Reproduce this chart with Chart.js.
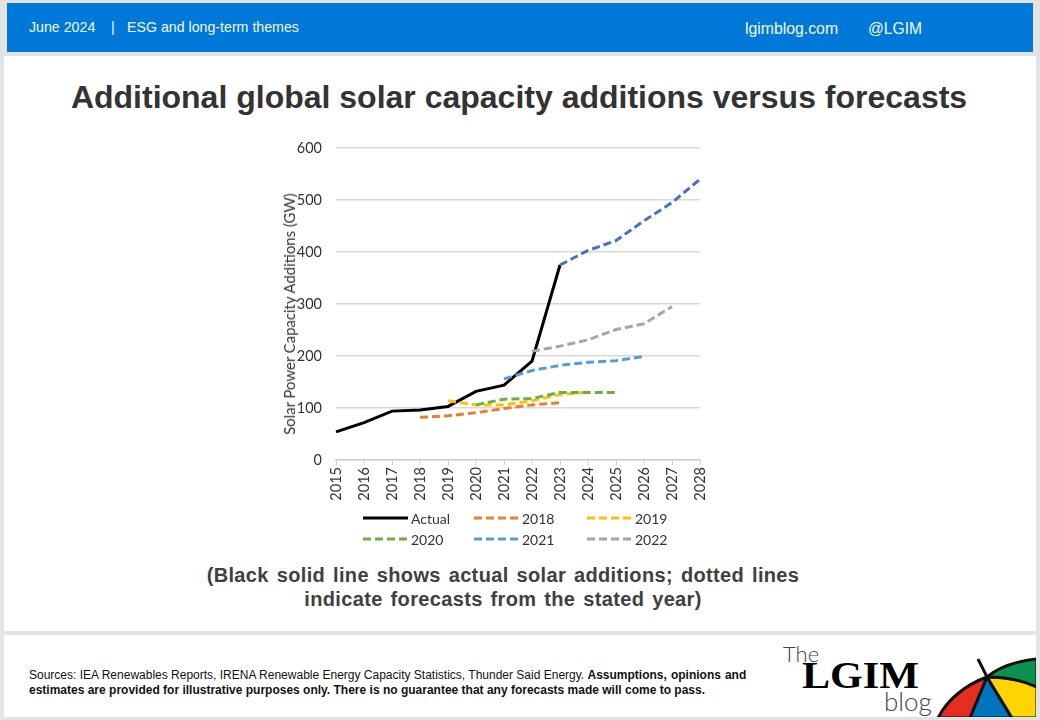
<!DOCTYPE html>
<html>
<head>
<meta charset="utf-8">
<title>Additional global solar capacity additions versus forecasts</title>
<script src="https://cdn.jsdelivr.net/npm/chart.js@4/dist/chart.umd.min.js"></script>
<style>
  html, body { margin: 0; padding: 0; }
  body { width: 1040px; height: 720px; background: #e3e3e3; position: relative; overflow: hidden;
         font-family: "Liberation Sans", Arial, sans-serif; }
  .abs { position: absolute; white-space: nowrap; }
  #header { left: 7px; top: 3px; width: 1026px; height: 49px; background: #0078d7; }
  #main { left: 4px; top: 56px; width: 1032px; height: 575px; background: #fff; }
  #foot { left: 4px; top: 635px; width: 1032px; height: 82px; background: #fff; }
  .hd { color: #f2f8fd; }
  #title { left: 0; width: 1038px; top: 79px; text-align: center; font-size: 32px; font-weight: bold; color: #333; }
  #note { left: 0; width: 1006px; top: 563px; text-align: center; font-size: 20px; line-height: 24px; font-weight: bold; color: #404040;
          letter-spacing: 0.35px; word-spacing: 2px; }
  #src { left: 29px; top: 668px; font-size: 12px; line-height: 14.5px; color: #111; }
  #chart { position: absolute; left: 270px; top: 130px; }
  #ytitle { left: 289px; top: 314px; transform: translate(-50%, -50%) rotate(-90deg); font-family: Lato, sans-serif; font-size: 14.9px; color: #333; }
  .lg { position: absolute; font-family: Lato, sans-serif; font-size: 14px; color: #333; display: flex; align-items: center; height: 20px; }
  .lg svg { margin-right: 3px; }
</style>
</head>
<body>
<div class="abs" id="header"></div>
<div class="abs" id="main"></div>
<div class="abs" id="foot"></div>

<div class="abs hd" style="left:29px;top:19px;font-size:14.2px;">June 2024</div>
<div class="abs hd" style="left:111px;top:19px;font-size:14.2px;">|</div>
<div class="abs hd" style="left:127px;top:19px;font-size:14.2px;">ESG and long-term themes</div>
<div class="abs hd" style="left:745px;top:20px;font-size:15.8px;">lgimblog.com</div>
<div class="abs hd" style="left:868px;top:20px;font-size:15.6px;">@LGIM</div>

<div class="abs" id="title">Additional global solar capacity additions versus forecasts</div>
<canvas id="chart" width="450" height="400"></canvas>
<div class="abs" id="ytitle">Solar Power Capacity Additions (GW)</div>
<div id="legend"></div>
<div class="abs" id="note">(Black solid line shows actual solar additions; dotted lines<br>indicate forecasts from the stated year)</div>

<div class="abs" id="src">Sources: IEA Renewables Reports, IRENA Renewable Energy Capacity Statistics, Thunder Said Energy. <b style="word-spacing:0.7px">Assumptions, opinions and</b><br><b>estimates are provided for illustrative purposes only. There is no guarantee that any forecasts made will come to pass.</b></div>

<svg class="abs" style="left:760px;top:630px;" width="280" height="90" viewBox="0 0 280 90">
  <defs><clipPath id="clip"><rect x="0" y="5" width="276" height="82"/></clipPath></defs>
  <text x="23" y="32" font-family="Lato, sans-serif" font-weight="300" font-size="22" fill="#444">The</text>
  <text x="42" y="58" font-family="Liberation Serif, serif" font-weight="bold" font-size="37" fill="#000" textLength="117" lengthAdjust="spacingAndGlyphs">LGIM</text>
  <text x="124" y="81" font-family="Lato, sans-serif" font-weight="300" font-size="26" fill="#444">blog</text>
  <g clip-path="url(#clip)" stroke="#111" stroke-width="3" stroke-linejoin="round">
    <path d="M227 47 C205 55 187 70 178 88 L210 88 Z" fill="#e52d20"/>
    <path d="M227 47 L210 88 L252 88 Z" fill="#0075bd"/>
    <path d="M227 47 L252 88 L277 88 L277 55 C262 50 245 47 227 47 Z" fill="#ffd400"/>
    <path d="M227 47 C242 47 262 50 277 57 L277 29 C258 31 240 36 227 47 Z" fill="#0b9150"/>
    <path d="M218 29 L227 47" fill="none"/>
  </g>
</svg>

<script>
'use strict';

const years = ['2015','2016','2017','2018','2019','2020','2021','2022','2023','2024','2025','2026','2027','2028'];
const yTicks = [0, 100, 200, 300, 400, 500, 600];

const actual   = [54, 72, 94, 96, 103, 132, 144, 190, 375, null, null, null, null, null];
const fc2018   = [null, null, null, 82, 85, 91, 99, 106, 110, null, null, null, null, null];
const fc2019   = [null, null, null, null, 114, 106, 106, 114, 126, 130, null, null, null, null];
const fc2020   = [null, null, null, null, null, 106, 117, 118, 130, 130, 130, null, null, null];
const fc2021   = [null, null, null, null, null, null, 156, 172, 182, 188, 191, 199, null, null];
const fc2022   = [null, null, null, null, null, null, null, 209, 219, 231, 251, 262, 295, null];
const fc2023   = [null, null, null, null, null, null, null, null, 375, 403, 422, 460, 495, 540];

const COL_ACTUAL = '#000000';
const DASH = [8, 4];

function forecast(label, data, color, order) {
  return { label, data, borderColor: color, borderWidth: 3, borderDash: DASH, pointRadius: 0, tension: 0, fill: false, order };
}

const datasets = [
  { label: 'Actual', data: actual, borderColor: COL_ACTUAL, borderWidth: 3, pointRadius: 0, tension: 0, fill: false, order: 7 },
  forecast('2018', fc2018, '#ed7d31', 6),
  forecast('2019', fc2019, '#ffc000', 5),
  forecast('2020', fc2020, '#70ad47', 4),
  forecast('2021', fc2021, '#5b9bd5', 3),
  forecast('2022', fc2022, '#a5a5a5', 2),
  forecast('2023', fc2023, '#4472c4', 1),
];

const FONT = 'Lato, sans-serif';

new Chart(document.getElementById('chart'), {
  type: 'line',
  data: { labels: years, datasets },
  options: {
    responsive: false,
    animation: false,
    layout: { padding: { top: 18, right: 20, left: 0, bottom: 0 } },
    plugins: { legend: { display: false }, tooltip: { enabled: false }, title: { display: false } },
    scales: {
      x: {
        offset: false,
        grid: { drawOnChartArea: false, drawTicks: true, tickLength: 5, color: '#d0d0d0', lineWidth: 1 },
        border: { color: '#d0d0d0', width: 1.5 },
        ticks: { color: '#333', font: { family: FONT, size: 14.5 }, minRotation: 90, maxRotation: 90, padding: 2, autoSkip: false },
        afterFit: scale => { scale.height = 70; },
      },
      y: {
        min: 0,
        max: 600,
        afterBuildTicks: scale => { scale.ticks = yTicks.map(value => ({ value })); },
        grid: { color: '#d9d9d9', lineWidth: 1.5, drawTicks: false },
        border: { display: false },
        ticks: { color: '#333', font: { family: FONT, size: 14.5 }, padding: 14 },
        afterFit: scale => { scale.width = 66; scale.paddingTop = 0; scale.paddingBottom = 0; },
      },
    },
  },
});

// ── Legend, two rows of three ────────────────────────────────────────────────
const legendRows = [['Actual', '2018', '2019'], ['2020', '2021', '2022']];
const legendX = [363, 474, 587];
const legendY = [508, 529];
const legendEl = document.getElementById('legend');

legendRows.forEach((row, r) => row.forEach((name, c) => {
  const ds = datasets.find(d => d.label === name);
  const dash = ds.borderDash ? `stroke-dasharray="${ds.borderDash.join(' ')}"` : '';
  const item = document.createElement('div');
  item.className = 'lg';
  item.style.left = legendX[c] + 'px';
  item.style.top = legendY[r] + 'px';
  item.innerHTML = `<svg width="45" height="6"><line x1="0" y1="3" x2="45" y2="3" stroke="${ds.borderColor}" stroke-width="3" ${dash}/></svg>`;
  item.appendChild(document.createTextNode(name));
  legendEl.appendChild(item);
}));
</script>
</body>
</html>
